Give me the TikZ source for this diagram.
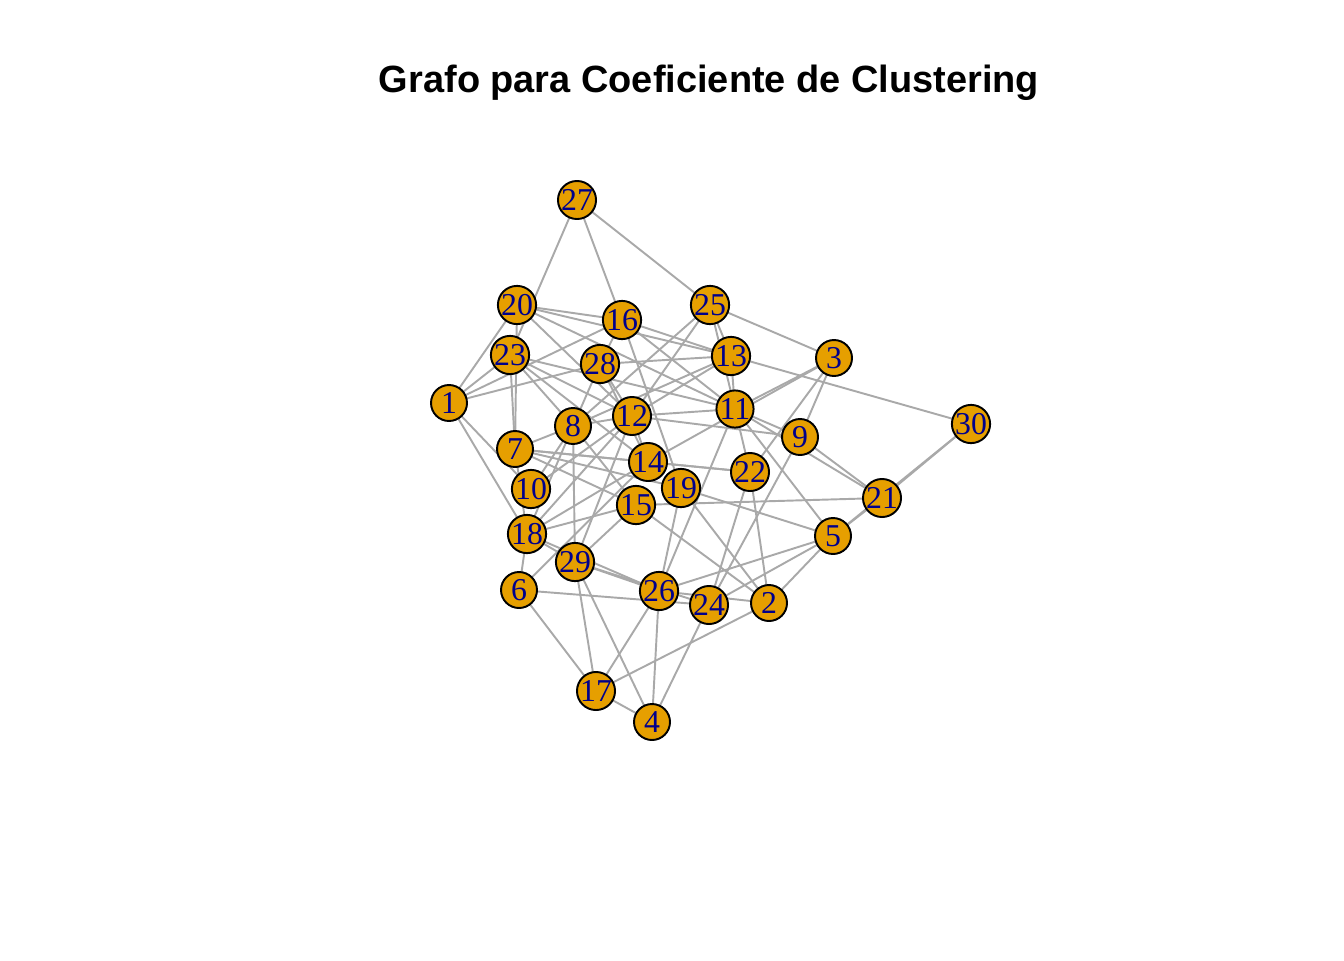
\documentclass[tikz,border=0pt]{standalone}
\usepackage{fontspec}
\setmainfont{Liberation Serif}
\newfontfamily\titlefont{Liberation Sans}
\pgfdeclarelayer{bg}
\pgfsetlayers{bg,main}
\definecolor{vfill}{HTML}{E69F00}
\definecolor{vlab}{HTML}{00008B}
\definecolor{egray}{HTML}{A9A9A9}
\tikzset{
  v/.style={circle, draw=black, line width=1.1pt, fill=vfill, minimum size=0.72cm, inner sep=0pt, text=vlab, font=\fontsize{18.1}{18.1}\selectfont},
  ed/.style={draw=egray, line width=1.1pt},
  ttl/.style={font=\titlefont\bfseries\fontsize{21.6}{21.6}\selectfont},
}
\begin{document}
\begin{tikzpicture}[x=0.02cm,y=-0.02cm]
\useasboundingbox (0,0) rectangle (1344,960);
\node[ttl] (title) at (709,83) {Grafo para Coeficiente de Clustering};
\node[v] (n1) at (449,403) {1};
\node[v] (n2) at (769,603) {2};
\node[v] (n3) at (834,358) {3};
\node[v] (n4) at (652,722) {4};
\node[v] (n5) at (833,536) {5};
\node[v] (n6) at (519,590) {6};
\node[v] (n7) at (515,449) {7};
\node[v] (n8) at (573,426) {8};
\node[v] (n9) at (800,437) {9};
\node[v] (n10) at (531,489) {10};
\node[v] (n11) at (735,409) {11};
\node[v] (n12) at (632,416) {12};
\node[v] (n13) at (731,356) {13};
\node[v] (n14) at (648,462) {14};
\node[v] (n15) at (636,505) {15};
\node[v] (n16) at (622,320) {16};
\node[v] (n17) at (596,691) {17};
\node[v] (n18) at (527,534) {18};
\node[v] (n19) at (681,488) {19};
\node[v] (n20) at (517,305) {20};
\node[v] (n21) at (882,498) {21};
\node[v] (n22) at (750,472) {22};
\node[v] (n23) at (510,355) {23};
\node[v] (n24) at (709,605) {24};
\node[v] (n25) at (710,305) {25};
\node[v] (n26) at (659,591) {26};
\node[v] (n27) at (577,200) {27};
\node[v] (n28) at (600,364) {28};
\node[v] (n29) at (575,562) {29};
\node[v] (n30) at (971,424) {30};
\begin{pgfonlayer}{bg}
\foreach \a/\b in {27/23,27/16,27/25,
1/20,1/23,1/28,1/18,1/10,1/16,
20/16,20/13,20/11,20/12,20/7,
23/12,23/8,23/11,23/7,23/14,
16/28,16/13,16/11,16/19,
25/3,25/13,25/11,25/8,25/12,
28/13,28/12,28/8,28/14,
13/30,13/11,13/8,13/12,
3/11,3/14,3/9,3/22,
11/12,11/9,11/21,11/22,11/5,11/26,
9/12,9/21,9/24,
21/30,21/5,21/15,
30/5,
5/2,5/26,5/24,5/19,
12/8,12/14,12/10,12/18,12/29,
8/7,8/29,8/15,8/10,8/18,
7/14,7/19,7/22,7/15,7/18,
14/22,14/18,
19/26,19/2,
15/18,15/29,15/2,
22/24,22/2,
18/6,18/29,18/26,
29/26,29/24,29/17,29/4,
6/17,6/24,6/14,
26/17,26/4,26/2,
24/4,
17/4,17/2}
  \draw[ed] (n\a.center) -- (n\b.center);
\end{pgfonlayer}
\end{tikzpicture}
\end{document}
